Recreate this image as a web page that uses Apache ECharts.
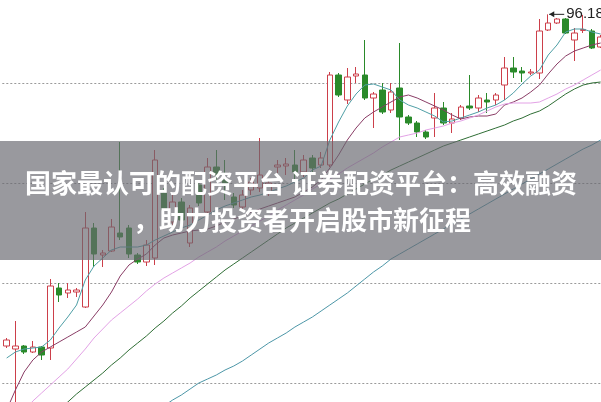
<!DOCTYPE html>
<html><head><meta charset="utf-8">
<script src="https://cdn.jsdelivr.net/npm/echarts@6/dist/echarts.min.js"></script>
<style>html,body{margin:0;padding:0;background:#fff;overflow:hidden;width:601px;height:402px;position:relative}
#c{position:absolute;left:0;top:-17px;width:605px;height:500px}</style>
</head><body><div id="c"></div>
<script>
// ---- data ----
const opens  = [66.33,66.06,66.33,65.79,66.24,66.15,71.55,71.10,71.19,69.84,76.95,74.52,74.88,76.50,76.95,74.52,73.89,74.25,80.10,77.49,79.29,75.60,80.82,78.39,82.44,81.27,79.74,78.84,80.37,80.55,80.10,82.44,82.53,82.62,81.99,83.25,82.62,82.62,90.72,88.47,90.63,90.72,88.65,89.37,87.57,89.55,86.94,86.40,85.59,86.85,87.75,86.40,86.85,87.93,87.75,88.47,88.47,89.82,91.35,91.08,90.90,90.90,94.77,95.40,95.76,93.87,94.73,94.68,93.24];
const closes = [66.87,66.33,65.79,66.24,65.52,71.73,70.92,71.37,71.37,76.95,74.61,74.70,77.04,76.14,74.61,73.89,75.42,83.07,78.57,79.29,77.67,78.75,79.20,82.44,81.72,80.82,79.02,79.92,81.09,81.72,81.00,82.62,82.71,81.99,83.07,82.35,83.25,90.72,88.92,90.54,90.81,88.65,89.01,87.39,89.19,86.94,86.40,85.59,85.14,87.75,86.40,86.76,87.84,87.75,88.65,88.29,88.92,91.35,90.99,90.90,90.99,94.68,95.40,95.76,94.50,94.50,94.82,93.15,94.14];
const lows   = [66.15,61.29,65.61,65.70,65.07,65.07,70.29,70.65,70.74,69.75,73.44,73.44,74.79,75.87,74.25,73.71,73.53,73.62,78.12,77.22,77.31,75.24,78.93,78.21,81.27,79.47,78.75,78.66,79.92,80.19,79.83,81.90,81.72,81.27,81.54,81.99,82.35,82.44,88.74,88.11,90.00,88.47,85.95,87.21,87.30,84.87,86.22,85.14,84.96,85.14,86.22,85.50,86.67,87.57,87.39,87.30,88.02,88.47,90.45,90.09,90.72,90.36,94.68,95.31,94.41,91.98,94.50,93.06,93.15];
const highs  = [67.05,68.58,66.42,66.78,66.33,72.36,72.00,72.00,71.55,78.39,77.40,74.97,77.76,84.69,77.22,74.70,75.87,83.97,80.55,79.92,79.65,79.02,81.27,83.25,83.97,83.07,80.10,80.37,81.45,85.05,81.27,83.07,83.25,83.97,83.52,83.52,83.79,90.99,90.90,91.35,91.44,93.87,89.19,90.00,90.00,93.60,87.12,86.58,85.77,89.10,88.29,87.30,88.02,90.72,88.92,89.10,89.10,92.34,92.34,91.44,91.26,95.76,96.18,95.85,95.85,94.95,96.12,94.86,94.32];

const ma5  = [65.25,65.79,66.06,66.15,66.24,66.87,67.95,68.94,70.02,72.27,73.53,74.25,74.97,75.24,75.24,75.24,75.42,75.87,76.23,76.59,76.95,77.22,77.67,78.12,78.57,78.93,79.20,79.47,79.74,79.92,80.19,80.46,80.73,81.09,81.45,82.17,82.53,84.87,86.49,87.93,89.01,89.82,89.91,89.64,89.37,88.47,88.02,87.75,87.39,87.03,86.49,86.58,86.85,87.12,87.39,87.75,88.02,88.47,89.10,89.91,90.63,91.17,92.52,93.42,94.59,94.86,94.86,94.59,94.41];
const ma10 = [60.57,62.37,63.99,65.07,65.79,66.24,66.69,67.14,67.59,68.04,69.03,70.02,71.19,72.63,73.62,74.16,74.61,75.42,76.05,76.32,76.50,76.68,76.77,76.86,77.13,77.49,77.76,78.03,78.39,78.66,78.93,79.20,79.47,79.74,80.19,80.64,81.27,82.35,83.52,84.87,85.95,86.85,87.39,87.84,88.29,88.74,88.92,88.65,88.29,87.93,87.57,87.12,86.76,86.94,87.03,87.03,87.21,88.02,88.29,88.65,89.19,89.82,90.81,91.71,92.43,92.88,93.15,93.42,93.60];
const ma20 = [58.77,59.67,60.48,61.38,62.10,62.82,63.54,64.26,65.16,66.06,67.05,67.86,68.67,69.30,69.93,70.56,71.28,71.91,72.45,72.90,73.35,73.80,74.34,74.79,75.24,75.78,76.23,76.68,77.13,77.58,78.03,78.57,79.02,79.47,79.92,80.46,80.91,81.36,81.81,82.35,82.80,83.25,83.70,84.24,84.69,85.14,85.32,85.50,85.77,85.95,86.13,86.40,86.58,86.85,87.12,87.48,87.84,88.11,88.20,88.20,88.20,88.29,88.65,89.01,89.46,89.82,90.27,90.72,91.17];
const ma60 = [null,null,null,null,null,null,60.66,61.29,62.01,62.64,63.27,63.90,64.62,65.25,65.97,66.60,67.23,67.95,68.58,69.30,69.93,70.65,71.28,71.91,72.54,73.17,73.71,74.25,74.79,75.33,75.87,76.41,76.95,77.40,77.85,78.30,78.75,79.20,79.56,80.01,80.46,80.91,81.36,81.72,82.17,82.53,82.89,83.25,83.61,83.97,84.33,84.60,84.87,85.14,85.41,85.68,85.95,86.22,86.58,86.85,87.21,87.48,87.93,88.47,89.01,89.46,89.82,90.00,90.09];
const ma120 = [null,null,null,null,null,null,null,null,null,null,null,null,null,null,null,null,null,null,60.93,61.47,61.92,62.46,63.00,63.36,63.72,64.17,64.53,64.98,65.52,66.06,66.60,67.05,67.50,68.04,68.49,68.94,69.48,70.02,70.56,71.10,71.73,72.36,72.99,73.53,74.16,74.61,75.06,75.51,75.96,76.41,76.86,77.31,77.76,78.21,78.66,79.11,79.56,80.01,80.46,80.91,81.36,81.81,82.26,82.71,83.16,83.61,84.06,84.42,84.87];

const titleLine1 = '国家最认可的配资平台 证券配资平台：高效融资';
const titleLine2 = '，助力投资者开启股市新征程';
// -------------------------------------

const OFF = 17; // chart div is shifted up by this many px
const categories = opens.map((_, i) => String(i + 1));
const ohlc = opens.map((o, i) => [o, closes[i], lows[i], highs[i]]);

const UP = '#cc3f4a', DOWN = '#2a8a2a';
const chart = echarts.init(document.getElementById('c'), null, {renderer: 'canvas'});

function maLine(data, color) {
  return {type: 'line', data, symbol: 'none', smooth: false, z: 3,
          lineStyle: {color, width: 1}, connectNulls: false, silent: true};
}

chart.setOption({
  animation: false,
  backgroundColor: '#ffffff',
  grid: {left: 2.3, right: 0, top: 0, bottom: 0, containLabel: false},
  xAxis: {type: 'category', data: categories, boundaryGap: true,
          axisLine: {show: false}, axisTick: {show: false}, axisLabel: {show: false}, splitLine: {show: false}},
  yAxis: {type: 'value', min: 54, max: 99, interval: 9,
          axisLine: {show: false}, axisTick: {show: false}, axisLabel: {show: false},
          splitLine: {show: true, lineStyle: {color: '#9a9a9a', width: 1, type: [2, 2]}}},
  series: [
    {type: 'candlestick', data: ohlc, barWidth: 6, z: 2,
     itemStyle: {color: '#ffffff', color0: DOWN, borderColor: UP, borderColor0: DOWN, borderWidth: 1}},
    maLine(ma5, '#4f9fa6'),
    maLine(ma10, '#8a3d66'),
    maLine(ma20, '#e3a2e6'),
    maLine(ma60, '#2f6e35'),
    maLine(ma120, '#4d97a8')
  ]
});

// highest-price marker
let hi = 0;
highs.forEach((h, i) => { if (h > highs[hi]) hi = i; });
const p = chart.convertToPixel({seriesIndex: 0}, [hi, highs[hi]]);

chart.setOption({
  graphic: [
    {type: 'line', z: 50, shape: {x1: p[0] + 1, y1: p[1], x2: p[0] + 16, y2: p[1]}, style: {stroke: '#222', lineWidth: 1}},
    {type: 'polygon', z: 50, shape: {points: [[p[0] + 1, p[1]], [p[0] + 6, p[1] - 3], [p[0] + 6, p[1] + 3]]}, style: {fill: '#222'}},
    {type: 'text', z: 50, x: p[0] + 18, y: p[1], style: {text: highs[hi].toFixed(2), fill: '#222', font: '15px "Liberation Sans", Arial, sans-serif', textVerticalAlign: 'middle'}},
    {type: 'rect', z: 100, shape: {x: 0, y: 141 + OFF, width: 605, height: 119}, style: {fill: 'rgba(105,105,112,0.68)'}},
    {type: 'text', z: 101, x: 301, y: 183 + OFF, style: {text: titleLine1, fill: '#ffffff', font: 'bold 26px "Noto Sans CJK SC"', textAlign: 'center', textVerticalAlign: 'middle'}},
    {type: 'text', z: 101, x: 302, y: 220 + OFF, style: {text: titleLine2, fill: '#ffffff', font: 'bold 26px "Noto Sans CJK SC"', textAlign: 'center', textVerticalAlign: 'middle'}}
  ]
});
</script></body></html>
